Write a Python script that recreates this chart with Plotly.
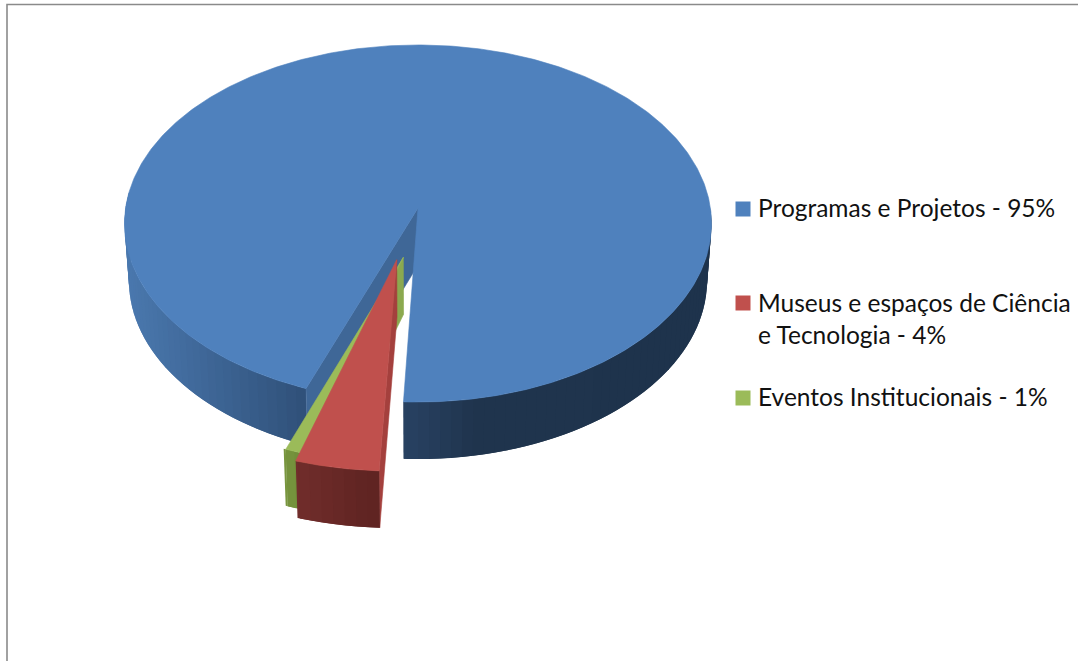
import numpy as np
import plotly.graph_objects as go

# Chart data
labels = ["Programas e Projetos - 95%",
          "Museus e espaços de Ciência<br>e Tecnologia - 4%",
          "Eventos Institucionais - 1%"]
values = [95, 4, 1]
top_colors = ["#4F81BD", "#C0504D", "#9BBB59"]
inner_colors = ["#3F6797", "#A4403D", "#8BA94F"]
legend_y = [209, 303, 398]
label_y = [207.5, 318.5, 396.5]

# Projection of the pie disc
CX, CY = 418.0, 208.0
RX, RY = 292.4, 177.2
PERSP = 0.0868
DEPTH = 57.0
BASE_SCALE = 0.985
START = 20.6          # degrees clockwise from the point nearest the viewer


def project(u, v, off=(0.0, 0.0), base=False):
    u = np.asarray(u, float) + off[0]
    v = np.asarray(v, float) + off[1]
    w = 1 - PERSP * v
    x = RX * u / w
    y = CY + RY * v / w
    if base:
        x = x * BASE_SCALE
        y = y + DEPTH
    return CX + x, y


def rim(a0, a1, n=None, off=(0.0, 0.0), base=False, r=1.0):
    n = n or max(2, int(abs(a1 - a0) * 1.5))
    t = np.radians(np.linspace(a0, a1, n))
    return project(-r * np.sin(t), r * np.cos(t), off, base)


def hex_rgb(c):
    return np.array([int(c[i:i + 2], 16) for i in (1, 3, 5)], float)


def lerp_color(x, xs, cols):
    rgb = [np.interp(x, xs, [hex_rgb(c)[k] for c in cols]) for k in range(3)]
    return "rgb(%d,%d,%d)" % tuple(int(round(c)) for c in rgb)


fig = go.Figure()


def poly(xs, ys, color, edge=0.6):
    fig.add_trace(go.Scatter(x=list(xs), y=list(ys), mode="lines", fill="toself",
                             fillcolor=color, line=dict(color=color, width=edge),
                             hoverinfo="skip", showlegend=False))


def wall_strip(a0, a1, off, stops, cols, r=1.0, step=2.0, reverse=False):
    """Outer wall of a slice as overlapping quads shaded by screen position."""
    edges = np.arange(a0, a1 + step * 0.5, step)
    if edges[-1] != a1:
        edges = np.append(edges, a1)
    pairs = list(zip(edges[:-1], edges[1:]))
    if reverse:
        pairs = pairs[::-1]
    for p, q in pairs:
        # each quad runs one step under its neighbour so no seam shows
        if reverse:
            p = max(a0, p - step)
        else:
            q = min(a1, q + step)
        tx, ty = rim(p, q, 5, off, r=r)
        bx, by = rim(p, q, 5, off, True, r=r)
        poly(np.r_[tx, bx[::-1]], np.r_[ty, by[::-1]],
             lerp_color(tx.mean(), stops, cols), edge=0)


def slice_top(a0, a1, off, color, r=1.0):
    x, y = rim(a0, a1, off=off, r=r)
    ax, ay = project(0, 0, off)
    poly(np.r_[ax, x, ax], np.r_[ay, y, ay], color)


def inner_wall(angle, off, color, r=1.0):
    t = np.radians(angle)
    ox, oy = project(-r * np.sin(t), r * np.cos(t), off)
    ax, ay = project(0, 0, off)
    ox2, oy2 = project(-r * np.sin(t), r * np.cos(t), off, True)
    ax2, ay2 = project(0, 0, off, True)
    poly([ax, ox, ox2, ax2, ax], [ay, oy, oy2, ay2, ay], color)


# Slice boundaries in degrees
sweeps = [v / sum(values) * 360 for v in values]
blue_a0 = START
blue_a1 = blue_a0 + sweeps[0]
red_a0 = blue_a1 - 360
red_a1 = red_a0 + sweeps[1]
green_a0 = red_a1
green_a1 = green_a0 + sweeps[2]

# Large slice stays in place
none = (0.0, 0.0)
wall_strip(blue_a0, 95, none, [125, 310], ["#4A78AE", "#2E4E76"])
wall_strip(270, blue_a1, none, [400, 470, 712], ["#294263", "#1F344D", "#1E334C"])
inner_wall(blue_a0, none, inner_colors[0])
slice_top(blue_a0, blue_a1, none, top_colors[0])

# Pulled-out slices sit closer to the viewer, so they are drawn slightly larger
green_off = (-0.049, 0.272)
red_off = (-0.071, 0.285)
near = 1.03

inner_wall(green_a0, green_off, inner_colors[2], r=1.01)
wall_strip(green_a0, green_a1, green_off, [280, 300], ["#7C9A41", "#6F8A38"], r=1.01)
slice_top(green_a0, green_a1, green_off, top_colors[2], r=1.01)

inner_wall(red_a0, red_off, inner_colors[1], r=near)
wall_strip(red_a0, red_a1, red_off, [298, 380], ["#722E2C", "#5E2321"], r=near, reverse=True)
slice_top(red_a0, red_a1, red_off, top_colors[1], r=near)

# Legend
for y, color in zip(legend_y, top_colors):
    fig.add_trace(go.Scatter(x=[743], y=[y], mode="markers",
                             marker=dict(symbol="square", size=15, color=color),
                             hoverinfo="skip", showlegend=False))
annotations = [dict(x=756, y=y, text=t, showarrow=False, xanchor="left", yanchor="middle",
                    align="left", font=dict(family="Lato", size=24.5, color="#111111"))
               for t, y in zip(labels, label_y)]

fig.update_layout(
    width=1078, height=661, margin=dict(l=0, r=0, t=0, b=0),
    paper_bgcolor="white", plot_bgcolor="white",
    xaxis=dict(range=[0, 1078], visible=False, fixedrange=True),
    yaxis=dict(range=[661, 0], visible=False, fixedrange=True),
    annotations=annotations,
    shapes=[dict(type="path", path="M 7 661 L 7 4.5 L 1078 4.5",
                 line=dict(color="#8A8A8A", width=1.6))],
)

fig.write_html("out.html", config=dict(displayModeBar=False))
